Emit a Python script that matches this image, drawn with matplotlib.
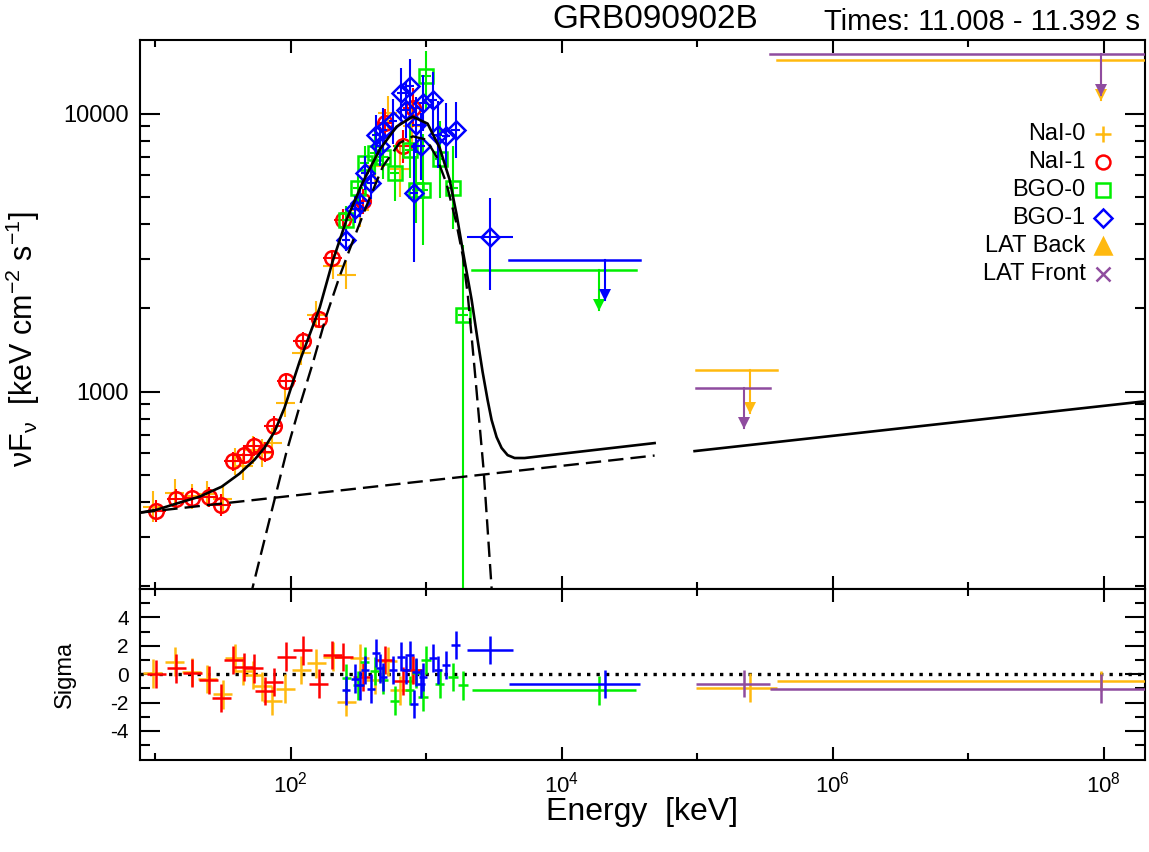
import numpy as np
import matplotlib
matplotlib.use("Agg")
import matplotlib.pyplot as plt
from matplotlib.transforms import offset_copy

plt.rcParams['font.family'] = ['Liberation Sans', 'DejaVu Sans']
plt.rcParams['mathtext.fontset'] = 'custom'
plt.rcParams['mathtext.rm'] = 'Liberation Sans'
plt.rcParams['mathtext.it'] = 'Liberation Sans:italic'
plt.rcParams['mathtext.bf'] = 'Liberation Sans:bold'
plt.rcParams['axes.unicode_minus'] = False

ORANGE = '#FFB90F'
RED = '#FF0000'
GREEN = '#00EE00'
BLUE = '#0000FF'
PURPLE = '#8F4C9F'

# ---- NaI-0 (keV, keV cm-2 s-1, error in dex, residual in sigma)
nai0_e = [9.6, 14.0, 18.6, 24.2, 31.5, 38.8, 44.6, 52.8, 62.0, 73.5, 91.0, 120, 155, 205, 258, 323, 420, 522, 637, 790]
nai0_f = [386, 432, 420, 430, 410, 561, 538, 618, 600, 653, 910, 1378, 1893, 2825, 2636, 4500, 6500, 10050, 6300, 9000]
nai0_df = [0.055, 0.05, 0.045, 0.045, 0.05, 0.05, 0.05, 0.05, 0.05, 0.055, 0.05, 0.045, 0.05, 0.045, 0.05, 0.06, 0.07, 0.06, 0.1, 0.09]
nai0_res = [0.05, 0.88, 0.17, -0.36, -1.43, 1.12, 0.24, -0.07, -0.86, -1.86, -1.02, 0.29, 0.76, 1.24, -1.98, 1.12, -0.4, 0.9, -1.14, 0.3]
nai0_hw = 0.07

# ---- NaI-1
nai1_e = [10.2, 14.3, 18.8, 24.8, 30.8, 37.9, 45.2, 53.6, 64.3, 75.4, 92.9, 123, 161, 203, 245, 340, 494, 675, 800]
nai1_f = [371, 411, 415, 418, 392, 561, 593, 635, 607, 755, 1089, 1525, 1832, 3025, 4150, 4840, 9270, 7620, 10500]
nai1_df = [0.04, 0.035, 0.035, 0.035, 0.04, 0.035, 0.035, 0.035, 0.035, 0.035, 0.03, 0.03, 0.03, 0.03, 0.04, 0.045, 0.05, 0.06, 0.07]
nai1_res = [0.0, 0.4, 0.1, -0.43, -1.69, 1.0, 0.52, 0.4, -1.19, -0.55, 1.24, 1.67, -0.67, 1.36, 1.19, -0.2, 1.0, -0.5, 0.3]
nai1_hw = 0.07

# ---- BGO-0
bgo0_e = [258, 314, 352, 417, 480, 586, 755, 847, 947, 1000, 1260, 1580, 1870]
bgo0_f = [4160, 5410, 6650, 7220, 7000, 6120, 7410, 5330, 5330, 13600, 6840, 5410, 1893]
bgo0_dlo = [0.05, 0.05, 0.06, 0.08, 0.08, 0.1, 0.1, 0.12, 0.2, 0.12, 0.14, 0.15, 3.0]
bgo0_dhi = [0.05, 0.05, 0.06, 0.08, 0.08, 0.1, 0.1, 0.12, 0.2, 0.09, 0.14, 0.15, 0.25]
bgo0_hw = [0.035, 0.035, 0.035, 0.035, 0.035, 0.035, 0.035, 0.035, 0.035, 0.035, 0.035, 0.035, 0.04]
bgo0_res = [-0.3, -0.79, 0.88, 0.2, -0.43, -1.86, -1.14, 0.05, -1.62, 1.0, -0.67, -0.19, -0.79]
# upper limit: bin low, bin high, value, arrow energy, arrow tip
bgo0_ul = (2180, 35200, 2730, 18850, 1973)
bgo0_ul_res = -1.14

# ---- BGO-1
bgo1_e = [258, 297, 323, 352, 394, 429, 454, 480, 569, 656, 714, 755, 810, 840, 922, 947, 1122, 1222, 1409, 1650, 2980]
bgo1_f = [3520, 4520, 4770, 6120, 5640, 8400, 7620, 8750, 9370, 11860, 10330, 12530, 5190, 9120, 7620, 10900, 11220, 8400, 8280, 8750, 3590]
bgo1_dlo = [0.04, 0.05, 0.05, 0.06, 0.06, 0.07, 0.07, 0.08, 0.08, 0.1, 0.1, 0.1, 0.25, 0.1, 0.12, 0.1, 0.12, 0.12, 0.12, 0.1, 0.19]
bgo1_dhi = [0.04, 0.05, 0.05, 0.06, 0.06, 0.07, 0.07, 0.08, 0.08, 0.09, 0.1, 0.1, 0.18, 0.1, 0.12, 0.1, 0.1, 0.12, 0.12, 0.1, 0.14]
bgo1_hw = [0.03, 0.03, 0.03, 0.03, 0.03, 0.03, 0.03, 0.03, 0.03, 0.03, 0.03, 0.03, 0.03, 0.03, 0.03, 0.03, 0.03, 0.03, 0.03, 0.03, 0.17]
bgo1_res = [-1.14, -0.31, -0.79, 0.29, -1.02, 1.48, 0.4, -0.19, 0.29, 1.24, 0.29, 1.36, -2.1, 0.17, -0.67, -0.19, 1.12, 0.29, 0.64, 2.07, 1.71]
bgo1_ul = (4080, 37700, 2966, 20900, 2142)
bgo1_ul_res = -0.69

# ---- LAT upper limits (bin low, bin high, value, arrow energy, arrow tip)
latb_ul = [(9.86e4, 3.9e5, 1197, 2.44e5, 838), (3.86e5, 2.1e8, 15560, 9.6e7, 11220)]
latf_ul = [(9.86e4, 3.43e5, 1031, 2.21e5, 740), (3.48e5, 2.1e8, 16400, 9.6e7, 11700)]
latb_res = [-0.95, -0.48]
latb_res_err = [1.0, 0.72]
latf_res = [-0.67, -1.02]
latf_res_err = [0.95, 1.0]

# ---- model curves
model_e = [7.74, 10.3, 14.2, 21.3, 31.0, 42.0, 54.2, 64.3, 76.2, 90.3, 116.5, 164, 204, 259, 340, 454, 606,
           795, 1026, 1258, 1491, 1680, 1860, 2167, 2399, 2612, 2844, 3043, 3314, 3608, 3995, 4500, 5333, 48570]
model_f = [367, 376, 395, 419, 455, 507, 569, 629, 718, 876, 1282, 2005, 2935, 4157, 5646, 7421, 8979,
           9754, 9204, 7545, 5788, 4332, 3242, 2142, 1536, 1178, 933, 791, 686, 627, 591, 577, 577, 653]
lat_model_e = [9.58e4, 2.1e8]
lat_model_f = [611, 925]
band_e = [48, 52.4, 74.0, 92.9, 116.5, 146, 183, 230, 272.5, 362, 480, 637, 799, 1003, 1189, 1410,
          1671, 1869, 2035, 2318, 2657, 3043, 3200]
band_f = [150, 197, 387, 602, 885, 1268, 1866, 2598, 3242, 4640, 6462, 7845, 8284, 8063, 7021, 5632,
          4045, 3067, 2202, 1105, 524, 197, 150]
pl_e = [7.74, 48570]
pl_f = [367, 589]


def data_points(ax, e, f, dlo, dhi, hw, color, marker, ms, z):
    e = np.array(e, float)
    f = np.array(f, float)
    hw = np.array(hw, float)
    xerr = [e - e / 10 ** hw, e * 10 ** hw - e]
    yerr = [f - f / 10 ** np.array(dlo), f * 10 ** np.array(dhi) - f]
    ax.errorbar(e, f, xerr=xerr, yerr=yerr, fmt=marker, color=color, ms=ms, mfc='none',
                mew=1.8, elinewidth=1.5, capsize=0, zorder=z)


def res_points(ax, e, r, hw, color, z, err=1.0):
    e = np.array(e, float)
    hw = np.array(hw, float)
    xerr = [e - e / 10 ** hw, e * 10 ** hw - e]
    ax.errorbar(e, r, xerr=xerr, yerr=err, fmt='none', ecolor=color, elinewidth=1.8,
                capsize=0, zorder=z)


def upper_limit(ax, ul, color, z):
    lo, hi, val, e_arr, tip = ul
    ax.plot([lo, hi], [val, val], color=color, lw=1.8, zorder=z)
    ax.plot([e_arr, e_arr], [val, tip], color=color, lw=1.5, zorder=z)
    tr = offset_copy(ax.transData, fig=ax.figure, y=5, units='dots')
    ax.plot([e_arr], [tip], marker='v', color=color, ms=8.5, mew=0, transform=tr, zorder=z)


fig = plt.figure(figsize=(11.49, 8.52), dpi=100)
ax = fig.add_axes([140 / 1149, 1 - 589 / 852, 1005 / 1149, 549 / 852])
axr = fig.add_axes([140 / 1149, 1 - 760 / 852, 1005 / 1149, 171 / 852])

# main panel
data_points(ax, nai0_e, nai0_f, nai0_df, nai0_df, nai0_hw, ORANGE, 'none', 0, 2)
data_points(ax, nai1_e, nai1_f, nai1_df, nai1_df, nai1_hw, RED, 'o', 10.5, 3)
data_points(ax, bgo0_e, bgo0_f, bgo0_dlo, bgo0_dhi, bgo0_hw, GREEN, 's', 9.5, 4)
data_points(ax, bgo1_e, bgo1_f, bgo1_dlo, bgo1_dhi, bgo1_hw, BLUE, 'D', 9.5, 5)
upper_limit(ax, bgo0_ul, GREEN, 4)
upper_limit(ax, bgo1_ul, BLUE, 5)
for ul in latb_ul:
    upper_limit(ax, ul, ORANGE, 4)
for ul in latf_ul:
    upper_limit(ax, ul, PURPLE, 5)

ax.plot(model_e, model_f, color='black', lw=1.9, zorder=7)
ax.plot(lat_model_e, lat_model_f, color='black', lw=1.9, zorder=7)
ax.plot(band_e, band_f, color='black', lw=1.7, ls=(0, (6.5, 3)), zorder=7)
ax.plot(pl_e, pl_f, color='black', lw=1.7, ls=(0, (6.5, 3)), zorder=7)

# residual panel
axr.axhline(0, color='black', lw=2.4, ls=(0, (1, 1.85)), zorder=1)
res_points(axr, nai0_e, nai0_res, nai0_hw, ORANGE, 2)
res_points(axr, nai1_e, nai1_res, nai1_hw, RED, 3)
res_points(axr, bgo0_e, bgo0_res, bgo0_hw, GREEN, 4)
res_points(axr, bgo1_e, bgo1_res, bgo1_hw, BLUE, 5)
for ul, r, c, z in [(bgo0_ul, bgo0_ul_res, GREEN, 4), (bgo1_ul, bgo1_ul_res, BLUE, 5)]:
    axr.errorbar([ul[3]], [r], xerr=[[ul[3] - ul[0]], [ul[1] - ul[3]]], yerr=1.0, fmt='none',
                 ecolor=c, elinewidth=1.8, zorder=z)
for uls, rs, errs, c, z in [(latb_ul, latb_res, latb_res_err, ORANGE, 4),
                            (latf_ul, latf_res, latf_res_err, PURPLE, 5)]:
    for ul, r, er in zip(uls, rs, errs):
        axr.errorbar([ul[3]], [r], xerr=[[ul[3] - ul[0]], [ul[1] - ul[3]]], yerr=er, fmt='none',
                     ecolor=c, elinewidth=1.8, zorder=z)

# axes styling
for a in (ax, axr):
    a.set_xscale('log')
    a.set_xlim(7.74, 2.02e8)
    a.set_xticks([1e2, 1e4, 1e6, 1e8])
    a.set_xticks([1e1, 1e3, 1e5, 1e7], minor=True)
    a.set_xticklabels([r'$\mathregular{10^2}$', r'$\mathregular{10^4}$',
                       r'$\mathregular{10^6}$', r'$\mathregular{10^8}$'], fontsize=16)
    a.set_xticklabels([], minor=True)
    a.tick_params(axis='x', which='major', direction='in', length=9.5, width=1.5, top=True, bottom=True, pad=8)
    a.tick_params(axis='x', which='minor', direction='in', length=5, width=1.5, top=True, bottom=True)
    a.tick_params(axis='y', which='major', direction='in', length=14.5, width=1.5, left=True, right=True, pad=8)
    a.tick_params(axis='y', which='minor', direction='in', length=7.2, width=1.5, left=True, right=True)
    for s in a.spines.values():
        s.set_linewidth(1.5)

ax.set_yscale('log')
ax.set_ylim(195, 18400)
ax.set_yticks([1000, 10000])
ax.set_yticklabels(['1000', '10000'], fontsize=17)
ax.set_yticks([200, 300, 400, 500, 600, 700, 800, 900, 2000, 3000, 4000, 5000, 6000, 7000, 8000, 9000], minor=True)
ax.set_yticklabels([], minor=True)
ax.tick_params(axis='x', labelbottom=False)
ax.set_ylabel(r'$\mathregular{\nu F_{\nu}\ \ [keV\ cm^{-2}\ s^{-1}]}$', fontsize=22)
ax.yaxis.set_label_coords(-0.0975, 0.455)

axr.set_ylim(-6.05, 6)
axr.set_yticks([-4, -2, 0, 2, 4])
axr.set_yticklabels(['-4', '-2', '0', '2', '4'], fontsize=15)
axr.set_yticks([-5, -3, -1, 1, 3, 5], minor=True)
axr.set_ylabel('Sigma', fontsize=17)
axr.yaxis.set_label_coords(-0.0637, 0.5)
axr.set_xlabel('Energy  [keV]', fontsize=23)
axr.xaxis.set_label_coords(0.5, -0.215)

# legend, text on the left of the symbol
legend_rows = [('NaI-0', '+', ORANGE, 'none', 11),
               ('NaI-1', 'o', RED, 'none', 10),
               ('BGO-0', 's', GREEN, 'none', 10),
               ('BGO-1', 'D', BLUE, 'none', 9.5),
               ('LAT Back', '^', ORANGE, ORANGE, 11),
               ('LAT Front', 'x', PURPLE, 'none', 10.5)]
for i, (lab, mk, c, fc, ms) in enumerate(legend_rows):
    y = 0.8285 - i * 0.0508
    ax.text(0.941, y, lab, transform=ax.transAxes, ha='right', va='center', fontsize=17)
    ax.plot([0.9585], [y], transform=ax.transAxes, marker=mk, color=c, mfc=fc, ms=ms,
            mew=1.8, ls='none', clip_on=False, zorder=8)

fig.text(655 / 1149, 1 - 19 / 852, 'GRB090902B', ha='center', va='center', fontsize=24)
fig.text(1140 / 1149, 1 - 22 / 852, 'Times: 11.008 - 11.392 s', ha='right', va='center', fontsize=21)

fig.savefig('out.png', dpi=100)
